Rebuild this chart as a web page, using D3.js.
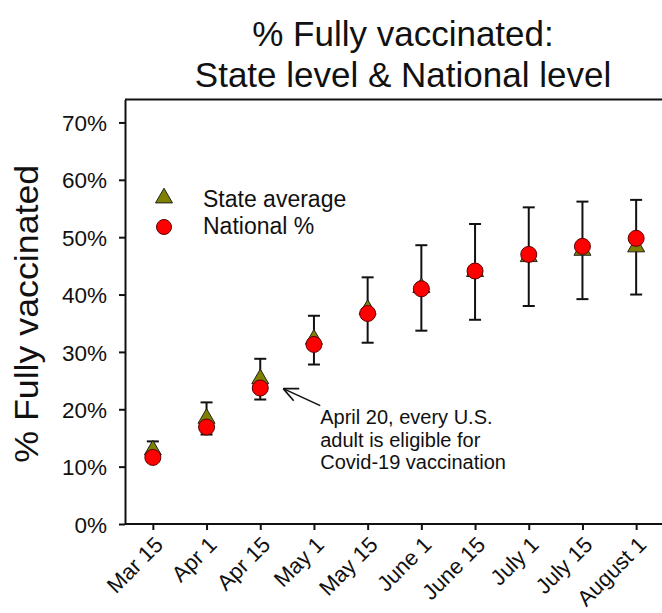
<!DOCTYPE html>
<html>
<head>
<meta charset="utf-8">
<script src="https://cdn.jsdelivr.net/npm/d3@7/dist/d3.min.js"></script>
<style>
  html, body { margin: 0; padding: 0; background: #fff; }
  svg { display: block; font-family: "Liberation Sans", Arial, sans-serif; }
</style>
</head>
<body>
<svg id="chart" width="662" height="613"></svg>
<script>
// ---- data ----
const categories = ["Mar 15", "Apr 1", "Apr 15", "May 1", "May 15", "June 1", "June 15", "July 1", "July 15", "August 1"];
const stateAverage = [12.9, 18.4, 25.3, 32.2, 37.4, 41.2, 44.0, 46.6, 47.7, 48.3];
const stateUpper   = [14.4, 21.2, 28.8, 36.3, 43.0, 48.6, 52.3, 55.2, 56.2, 56.5];
const stateLower   = [11.4, 15.6, 21.7, 27.8, 31.6, 33.7, 35.6, 38.0, 39.2, 40.0];
const nationalPct  = [11.6, 16.9, 23.7, 31.3, 36.7, 41.0, 44.1, 47.0, 48.4, 49.8];
const yTickValues  = [0, 10, 20, 30, 40, 50, 60, 70];
const titleLines   = ["% Fully vaccinated:", "State level & National level"];
const yAxisTitle   = "% Fully vaccinated";
const legendLabels = ["State average", "National %"];
const noteLines    = ["April 20, every U.S.", "adult is eligible for", "Covid-19 vaccination"];

// ---- layout ----
const plot = { left: 125, right: 663, top: 99.5, bottom: 524 };
const svg = d3.select("#chart");

const x = d3.scalePoint().domain(categories).range([126, plot.right]).padding(0.5);
const y = d3.scaleLinear().domain([0, 74]).range([plot.bottom, plot.top]);

const rows = categories.map((c, i) => ({
  c, state: stateAverage[i], hi: stateUpper[i], lo: stateLower[i], nat: nationalPct[i]
}));

// title
svg.append("g").selectAll("text").data(titleLines).join("text")
  .attr("x", 403).attr("y", (d, i) => 46 + i * 41)
  .attr("text-anchor", "middle").attr("font-size", 35).attr("fill", "#111")
  .text(d => d);

// frame (top and right)
svg.append("path")
  .attr("d", `M${plot.left},${plot.top}H${plot.right}V${plot.bottom}`)
  .attr("fill", "none").attr("stroke", "#111").attr("stroke-width", 2);

// y axis
const yAxis = svg.append("g").attr("transform", `translate(${plot.left},0)`)
  .call(d3.axisLeft(y).tickValues(yTickValues).tickSize(6).tickSizeOuter(0).tickPadding(12)
    .tickFormat(d => d + "%"));
yAxis.selectAll("path, line").attr("stroke", "#111").attr("stroke-width", 2);
yAxis.selectAll("text").attr("font-size", 22.5).attr("fill", "#111")
  .attr("font-family", "'Liberation Sans', Arial, sans-serif").attr("dy", "0.36em");

// x axis
const xAxis = svg.append("g").attr("transform", `translate(0,${plot.bottom})`)
  .call(d3.axisBottom(x).tickSize(6).tickSizeOuter(0));
xAxis.select(".domain").attr("d", `M${plot.left},0H${plot.right}`);
xAxis.selectAll("path, line").attr("stroke", "#111").attr("stroke-width", 2);
xAxis.selectAll("text")
  .attr("font-size", 22).attr("fill", "#111")
  .attr("font-family", "'Liberation Sans', Arial, sans-serif")
  .attr("text-anchor", "end")
  .attr("y", 0).attr("dy", 0)
  .attr("transform", "translate(11,22) rotate(-45)");

// y axis title
svg.append("text")
  .attr("transform", `translate(38,${(y(0) + y(74)) / 2 + 2}) rotate(-90)`)
  .attr("text-anchor", "middle").attr("font-size", 34).attr("fill", "#111")
  .attr("textLength", 298).attr("lengthAdjust", "spacingAndGlyphs")
  .text(yAxisTitle);

// error bars
const eb = svg.append("g").attr("stroke", "#111").attr("stroke-width", 2);
eb.selectAll(".v").data(rows).join("line")
  .attr("x1", d => x(d.c)).attr("x2", d => x(d.c))
  .attr("y1", d => y(d.hi)).attr("y2", d => y(d.lo));
eb.selectAll(".ct").data(rows).join("line")
  .attr("x1", d => x(d.c) - 6).attr("x2", d => x(d.c) + 6)
  .attr("y1", d => y(d.hi)).attr("y2", d => y(d.hi));
eb.selectAll(".cb").data(rows).join("line")
  .attr("x1", d => x(d.c) - 6).attr("x2", d => x(d.c) + 6)
  .attr("y1", d => y(d.lo)).attr("y2", d => y(d.lo));

// markers
const tri = d3.symbol(d3.symbolTriangle, 125);
svg.append("g").selectAll("path").data(rows).join("path")
  .attr("d", tri)
  .attr("transform", d => `translate(${x(d.c)},${y(d.state)})`)
  .attr("fill", "#7f7f00").attr("stroke", "#222").attr("stroke-width", 1);
svg.append("g").selectAll("circle").data(rows).join("circle")
  .attr("cx", d => x(d.c)).attr("cy", d => y(d.nat)).attr("r", 8)
  .attr("fill", "#ff0000").attr("stroke", "#5a0000").attr("stroke-width", 1);

// legend
const lg = svg.append("g");
lg.append("path").attr("d", tri).attr("transform", "translate(164,198)")
  .attr("fill", "#7f7f00").attr("stroke", "#222").attr("stroke-width", 1);
lg.append("circle").attr("cx", 164).attr("cy", 227).attr("r", 7.5)
  .attr("fill", "#ff0000").attr("stroke", "#5a0000").attr("stroke-width", 1);
lg.selectAll("text").data(legendLabels).join("text")
  .attr("x", 203).attr("y", (d, i) => 206.5 + i * 27)
  .attr("font-size", 23).attr("fill", "#111").text(d => d);

// annotation arrow pointing at Apr 15
const tipX = x("Apr 15") + 23, tipY = y(23.6);
const tailX = tipX + 37, tailY = tipY + 17;
const ang = Math.atan2(tailY - tipY, tailX - tipX);
const armLen = 16, spread = 0.43;
const ann = svg.append("g").attr("stroke", "#111").attr("stroke-width", 1.6).attr("fill", "none");
ann.append("line").attr("x1", tipX).attr("y1", tipY).attr("x2", tailX).attr("y2", tailY);
[ang - spread, ang + spread].forEach(a => {
  ann.append("line").attr("x1", tipX).attr("y1", tipY)
    .attr("x2", tipX + armLen * Math.cos(a)).attr("y2", tipY + armLen * Math.sin(a));
});
svg.append("g").selectAll("text").data(noteLines).join("text")
  .attr("x", tailX).attr("y", (d, i) => tailY + 18.5 + i * 22.5)
  .attr("font-size", 20).attr("fill", "#111").text(d => d);
</script>
</body>
</html>
